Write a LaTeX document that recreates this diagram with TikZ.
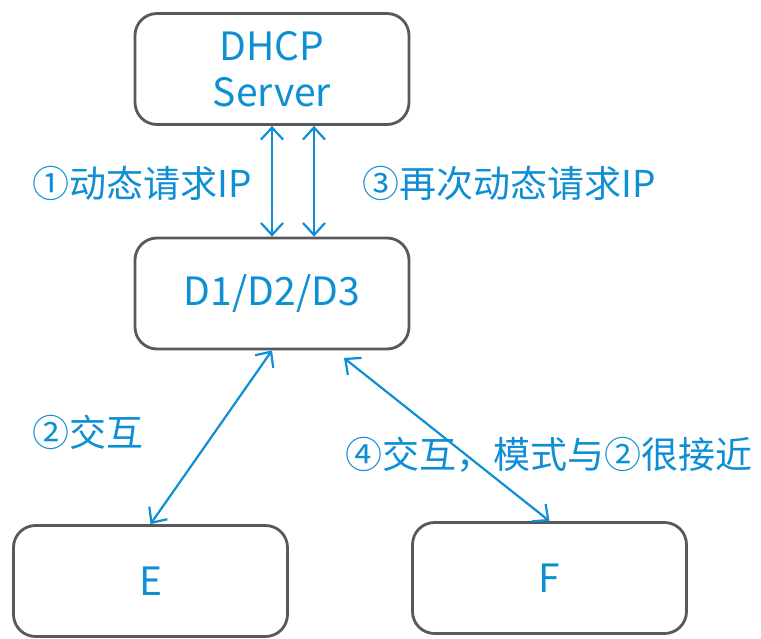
\documentclass[tikz,border=0pt]{standalone}
\usepackage{fontspec}
\setmainfont{Noto Sans CJK SC}
\usetikzlibrary{arrows.meta}
\definecolor{txtblue}{HTML}{0E8FD3}
\definecolor{boxgray}{HTML}{595959}
\tikzset{
  box/.style={draw=boxgray, line width=2.8pt, rounded corners=22pt, fill=white,
    minimum width=274pt, minimum height=111pt, inner sep=0pt,
    text=txtblue, align=center, font=\fontsize{39}{46}\selectfont},
  lbl/.style={text=txtblue, inner sep=0pt, anchor=west, font=\fontsize{37}{44}\selectfont},
  link/.style={draw=txtblue, line width=2.2pt,
    {Straight Barb[length=12pt,width=22pt,line width=2.2pt]}-{Straight Barb[length=12pt,width=22pt,line width=2.2pt]}}
}
\begin{document}
\begin{tikzpicture}[x=1pt,y=-1pt]
\useasboundingbox (0,0) rectangle (761,638);
% boxes
\node[box] (srv) at (272,69) {DHCP\\Server};
\node[box] (dev) at (272,293.5) {D1/D2/D3};
\node[box] (e) at (150.5,581) {E};
\node[box] (f) at (549.5,578) {F};
% labels
\node[lbl] (l1) at (32,183) {①动态请求IP};
\node[lbl] (l3) at (362,183) {③再次动态请求IP};
\node[lbl] (l2) at (32,432) {②交互};
\node[lbl] (l4) at (345,455) {④交互，模式与②很接近};
% connectors
\coordinate (fs) at (344,358);
\draw[link] (srv.south) -- (dev.north);
\draw[link] ([xshift=42pt]srv.south) -- ([xshift=42pt]dev.north);
\draw[link] (dev.south) -- (e.north);
\draw[link] (fs) -- (f.north);
\end{tikzpicture}
\end{document}
